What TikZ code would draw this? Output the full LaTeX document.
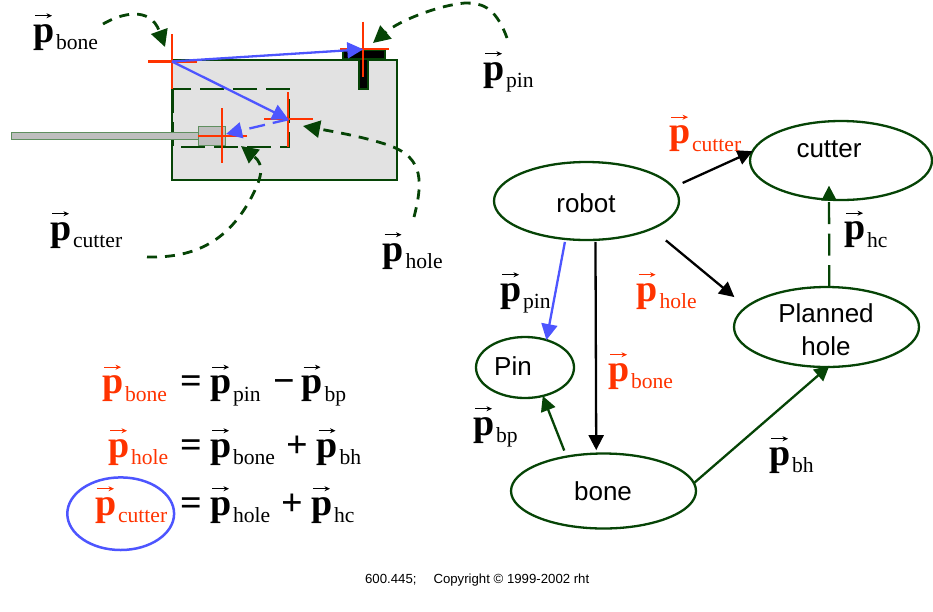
\documentclass[tikz,border=0pt]{standalone}
\usepackage{fontspec}
\setmainfont{Liberation Serif}
\setsansfont{Liberation Sans}
\usetikzlibrary{arrows.meta,shapes.geometric}
\definecolor{dgreen}{HTML}{064406}
\definecolor{redv}{HTML}{FF3300}
\definecolor{bluev}{HTML}{4D55FF}
\definecolor{bonegray}{HTML}{E2E2E2}
\definecolor{toolgray}{HTML}{BEBEBE}
\definecolor{toolline}{HTML}{5F8F5F}
% name, x, y, colour, subscript
\newcommand{\pl}[5]{%
  \node[vlabel,text=#4,xshift=-1pt] (#1) at (#2,#3) {{\fontsize{38}{38}\selectfont\bfseries p}\hspace{1.8pt}\raisebox{-7.5pt}{\fontsize{21.6}{22}\selectfont #5}};
  \draw[vecmark,draw=#4] ([xshift=3pt,yshift=26.3pt]#1.base west) -- ([xshift=20pt,yshift=26.3pt]#1.base west);
}
\tikzset{
  x=1pt,y=-1pt,
  graphnode/.style={draw=dgreen,ellipse,inner sep=0pt,outer sep=0pt},
  nodetext/.style={font=\sffamily\fontsize{26}{33}\selectfont,inner sep=0pt,anchor=base},
  vlabel/.style={inner sep=0pt,anchor=base west},
  vecmark/.style={-{Stealth[length=5.5pt,width=5pt]},line width=0.8pt},
  oper/.style={inner sep=0pt,anchor=base,font=\bfseries\fontsize{38}{38}\selectfont},
  crossline/.style={draw=redv},
  greenhead/.style={-{Triangle[length=17pt,width=17pt]},draw=dgreen},
  callout/.style={greenhead,dash pattern=on 10pt off 8pt,line width=2.8pt},
  bluearrow/.style={-{Triangle[length=16pt,width=16pt]},draw=bluev},
  blackarrow/.style={-{Triangle[length=15pt,width=15pt]},draw=black},
  grapharrow/.style={-{Triangle[length=15pt,width=15pt]},draw=dgreen},
}
\begin{document}
\begin{tikzpicture}[line width=2.3pt]
\useasboundingbox (0,0) rectangle (933,611);
% bone
\path[draw=dgreen,fill=bonegray] (172,60) rectangle (396.7,180);
\path[draw=dgreen,dash pattern=on 24pt off 9pt] (173,89) rectangle (289,147);
% pin
\path[draw=dgreen,fill=black] (343.3,50) rectangle (385,59.5);
\path[draw=dgreen,fill=black] (359.3,59) rectangle (368.3,89.3);
% tool
\path[draw=toolline,fill=toolgray,line width=1pt] (11,132.7) rectangle (198,139.3);
\path[draw=toolline,fill=toolgray,line width=1pt] (198,126) rectangle (225.7,145.7);
% crosses
\coordinate (boneo) at (172,61.5);
\coordinate (holeo) at (288.3,119.3);
\coordinate (cuto) at (222.3,135.7);
\coordinate (pino) at (363.3,49.3);
\draw[crossline] (172,34) -- (172,89) (148,61.5) -- (197,61.5);
\draw[crossline] (288.3,92) -- (288.3,147) (264,119.3) -- (313,119.3);
\draw[crossline] (222.3,108) -- (222.3,163) (198,135.7) -- (247,135.7);
\draw[crossline] (363.3,21.7) -- (363.3,76.7) (340,49.3) -- (389,49.3);
% blue vectors
\draw[bluearrow] (boneo) -- (pino);
\draw[bluearrow] (boneo) -- (holeo);
\coordinate (cutterend) at (226,134);
\draw[bluearrow,dash pattern=on 16pt off 8pt] (holeo) -- (cutterend);
% callouts
\coordinate (cb) at (103,24);
\coordinate (cbt) at (165,47);
\coordinate (cp) at (507,38);
\coordinate (cpt) at (373,43);
\coordinate (ch) at (414,217);
\coordinate (cht) at (303,126);
\coordinate (cc) at (147,257);
\coordinate (cct) at (241,146);
\draw[callout] (cb) .. controls (120,14) and (150,5) .. (cbt);
\draw[callout] (cp) .. controls (495,5) and (480,3) .. (465,3) .. controls (440,5) and (400,20) .. (cpt);
\draw[callout] (ch) .. controls (425,175) and (420,155) .. (385,144) .. controls (360,136) and (330,131) .. (cht);
\draw[callout] (cc) .. controls (190,258) and (225,245) .. (250,200) .. controls (262,178) and (265,165) .. (cct);
% left labels
\pl{lbone}{33}{42}{black}{bone}
\pl{lpin}{483}{80}{black}{pin}
\pl{lcutter}{50}{240}{black}{cutter}
\pl{lhole}{382.5}{261}{black}{hole}
% equations
\pl{eoa}{102}{393.5}{redv}{bone}
\node[oper] (eob) at (191,393.5) {=};
\pl{eoc}{210}{393.5}{black}{pin}
\node[oper] (eod) at (284,393.5) {−};
\pl{eoe}{301.5}{393.5}{black}{bp}
\pl{eta}{108}{457}{redv}{hole}
\node[oper] (etb) at (191,457) {=};
\pl{etc}{210}{457}{black}{bone}
\node[oper] (etd) at (297.5,457) {+};
\pl{ete}{316.5}{457}{black}{bh}
\pl{eha}{95}{515}{redv}{cutter}
\node[oper] (ehb) at (191,515) {=};
\pl{ehc}{210}{515}{black}{hole}
\node[oper] (ehd) at (292.5,515) {+};
\pl{ehe}{311}{515}{black}{hc}
\node[draw=bluev,ellipse,line width=2.5pt,inner sep=0pt,outer sep=0pt,minimum width=106.8pt,minimum height=72.6pt] (circled) at (120.7,513.7) {};
% graph
\node[graphnode,minimum width=185pt,minimum height=78pt] (robot) at (586.5,201) {};
\node[graphnode,minimum width=182pt,minimum height=79pt] (cutter) at (841,160.5) {};
\node[graphnode,minimum width=185pt,minimum height=80pt] (planned) at (826.5,327) {};
\node[graphnode,minimum width=98pt,minimum height=61pt] (pinn) at (525,367.5) {};
\node[graphnode,minimum width=185pt,minimum height=75pt] (bonen) at (603.5,491) {};
\node[nodetext] (trobot) at (586,212) {robot};
\node[nodetext] (tcutter) at (829,157.7) {cutter};
\node[nodetext] (tplanned1) at (826,322) {Planned};
\node[nodetext] (tplanned2) at (826,355) {hole};
\node[nodetext] (tpin) at (513,375) {Pin};
\node[nodetext] (tbone) at (603,500) {bone};
\draw[bluearrow,shorten <=3pt] (robot.241) -- (pinn.52);
\draw[blackarrow,shorten <=2pt,shorten >=3.5pt] (robot.283.3) -- (bonen.101.8);
\draw[blackarrow,shorten <=10.5pt] (robot.9.5) -- (cutter.174.5);
\draw[blackarrow,shorten <=18.4pt,shorten >=15.6pt] (robot.337.9) -- (planned.166);
\draw[grapharrow,dash pattern=on 22pt off 9.5pt,shorten >=-14pt] (planned.86.4) -- (cutter.253);
\draw[grapharrow,shorten >=-2pt] (bonen.5.6) -- (planned.272);
\draw[grapharrow,shorten <=6.5pt] (bonen.137.3) -- (pinn.302.4);
% graph labels
\pl{gcutter}{669}{143.5}{redv}{cutter}
\pl{ghc}{844}{239.5}{black}{hc}
\pl{gbh}{769}{465}{black}{bh}
\pl{gpin}{500}{301}{black}{pin}
\pl{ghole}{636.5}{301}{redv}{hole}
\pl{gbone}{608}{381}{redv}{bone}
\pl{gbp}{473}{435}{black}{bp}
% footer
\node[inner sep=0pt,anchor=base west,font=\sffamily\fontsize{13.2}{13.2}\selectfont] (footer) at (364,583) {600.445;\hspace{17pt}Copyright © 1999-2002 rht};
\end{tikzpicture}
\end{document}
